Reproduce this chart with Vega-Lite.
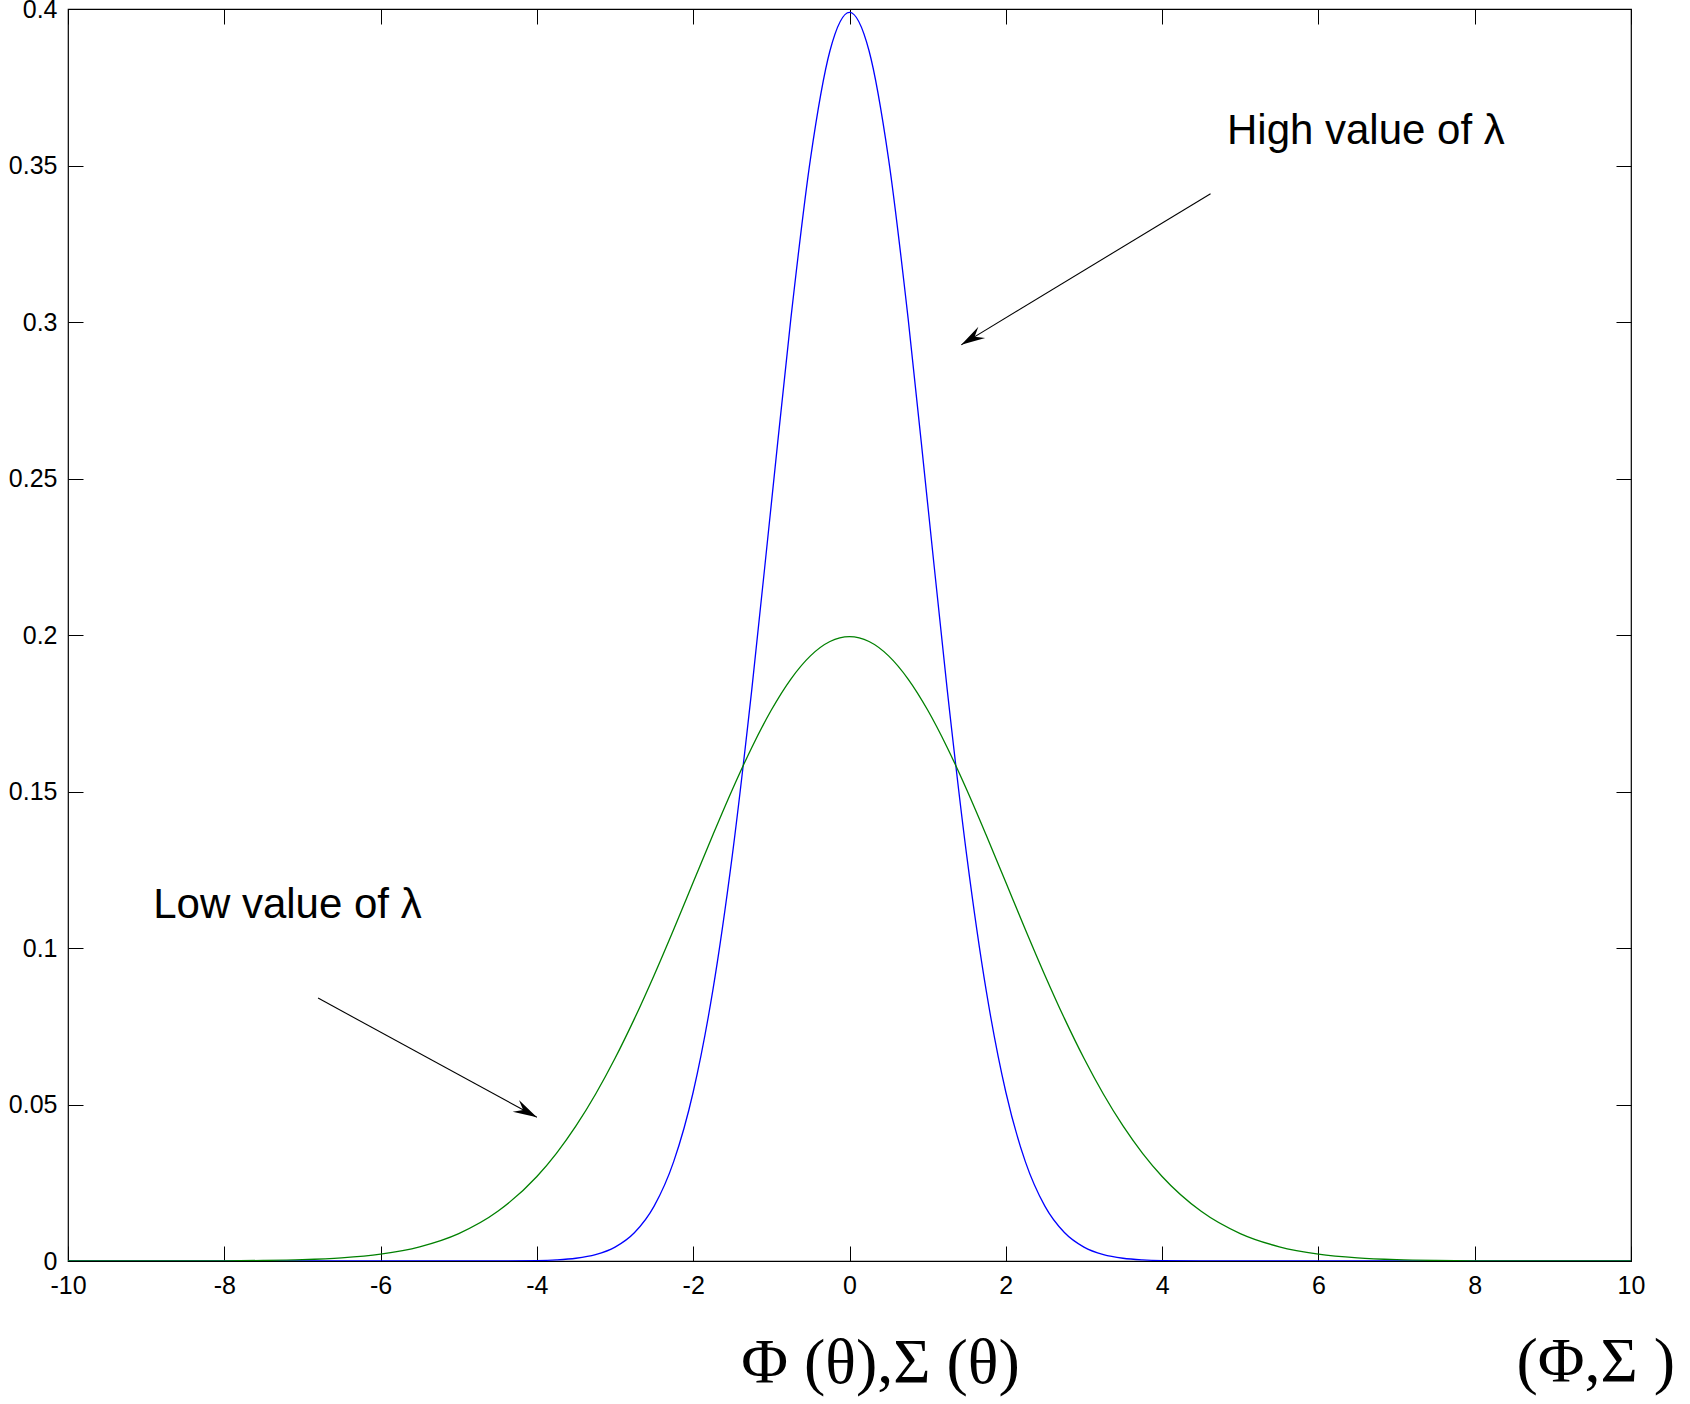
{
  "$schema": "https://vega.github.io/schema/vega-lite/v6.json",
  "autosize": {"type": "none"},
  "width": 1563,
  "height": 1252,
  "padding": {"left": 68, "top": 9, "right": 59, "bottom": 143},
  "background": "white",
  "config": {
    "view": {"stroke": "black", "strokeWidth": 1.2},
    "axis": {"grid": false, "domain": false, "tickColor": "black", "tickWidth": 1, "labelColor": "black", "labelFont": "Liberation Sans", "labelFontSize": 25, "tickSize": -15}
  },
  "datasets": {
    "curves": [
      {"x": -10, "y": 0, "s": "high"},
      {"x": -6, "y": 0, "s": "high"},
      {"x": -5, "y": 0.0000015, "s": "high"},
      {"x": -4.5, "y": 0.000016, "s": "high"},
      {"x": -4, "y": 0.000134, "s": "high"},
      {"x": -3.75, "y": 0.000353, "s": "high"},
      {"x": -3.5, "y": 0.000873, "s": "high"},
      {"x": -3.25, "y": 0.002029, "s": "high"},
      {"x": -3, "y": 0.004432, "s": "high"},
      {"x": -2.75, "y": 0.009094, "s": "high"},
      {"x": -2.5, "y": 0.017528, "s": "high"},
      {"x": -2.25, "y": 0.03174, "s": "high"},
      {"x": -2, "y": 0.053991, "s": "high"},
      {"x": -1.75, "y": 0.086277, "s": "high"},
      {"x": -1.5, "y": 0.129518, "s": "high"},
      {"x": -1.25, "y": 0.182649, "s": "high"},
      {"x": -1, "y": 0.241971, "s": "high"},
      {"x": -0.75, "y": 0.301137, "s": "high"},
      {"x": -0.5, "y": 0.352065, "s": "high"},
      {"x": -0.25, "y": 0.386668, "s": "high"},
      {"x": 0, "y": 0.398942, "s": "high"},
      {"x": 0.25, "y": 0.386668, "s": "high"},
      {"x": 0.5, "y": 0.352065, "s": "high"},
      {"x": 0.75, "y": 0.301137, "s": "high"},
      {"x": 1, "y": 0.241971, "s": "high"},
      {"x": 1.25, "y": 0.182649, "s": "high"},
      {"x": 1.5, "y": 0.129518, "s": "high"},
      {"x": 1.75, "y": 0.086277, "s": "high"},
      {"x": 2, "y": 0.053991, "s": "high"},
      {"x": 2.25, "y": 0.03174, "s": "high"},
      {"x": 2.5, "y": 0.017528, "s": "high"},
      {"x": 2.75, "y": 0.009094, "s": "high"},
      {"x": 3, "y": 0.004432, "s": "high"},
      {"x": 3.25, "y": 0.002029, "s": "high"},
      {"x": 3.5, "y": 0.000873, "s": "high"},
      {"x": 3.75, "y": 0.000353, "s": "high"},
      {"x": 4, "y": 0.000134, "s": "high"},
      {"x": 4.5, "y": 0.000016, "s": "high"},
      {"x": 5, "y": 0.0000015, "s": "high"},
      {"x": 6, "y": 0, "s": "high"},
      {"x": 10, "y": 0, "s": "high"},
      {"x": -10, "y": 0.0000007, "s": "low"},
      {"x": -9, "y": 0.000008, "s": "low"},
      {"x": -8, "y": 0.000067, "s": "low"},
      {"x": -7.5, "y": 0.000176, "s": "low"},
      {"x": -7, "y": 0.000436, "s": "low"},
      {"x": -6.5, "y": 0.001015, "s": "low"},
      {"x": -6, "y": 0.002216, "s": "low"},
      {"x": -5.5, "y": 0.004547, "s": "low"},
      {"x": -5, "y": 0.008764, "s": "low"},
      {"x": -4.5, "y": 0.01587, "s": "low"},
      {"x": -4, "y": 0.026995, "s": "low"},
      {"x": -3.75, "y": 0.034393, "s": "low"},
      {"x": -3.5, "y": 0.043139, "s": "low"},
      {"x": -3.25, "y": 0.053271, "s": "low"},
      {"x": -3, "y": 0.064759, "s": "low"},
      {"x": -2.75, "y": 0.07751, "s": "low"},
      {"x": -2.5, "y": 0.091324, "s": "low"},
      {"x": -2.25, "y": 0.105939, "s": "low"},
      {"x": -2, "y": 0.120985, "s": "low"},
      {"x": -1.75, "y": 0.136027, "s": "low"},
      {"x": -1.5, "y": 0.150569, "s": "low"},
      {"x": -1.25, "y": 0.164081, "s": "low"},
      {"x": -1, "y": 0.176033, "s": "low"},
      {"x": -0.75, "y": 0.185927, "s": "low"},
      {"x": -0.5, "y": 0.193334, "s": "low"},
      {"x": -0.25, "y": 0.197919, "s": "low"},
      {"x": 0, "y": 0.199471, "s": "low"},
      {"x": 0.25, "y": 0.197919, "s": "low"},
      {"x": 0.5, "y": 0.193334, "s": "low"},
      {"x": 0.75, "y": 0.185927, "s": "low"},
      {"x": 1, "y": 0.176033, "s": "low"},
      {"x": 1.25, "y": 0.164081, "s": "low"},
      {"x": 1.5, "y": 0.150569, "s": "low"},
      {"x": 1.75, "y": 0.136027, "s": "low"},
      {"x": 2, "y": 0.120985, "s": "low"},
      {"x": 2.25, "y": 0.105939, "s": "low"},
      {"x": 2.5, "y": 0.091324, "s": "low"},
      {"x": 2.75, "y": 0.07751, "s": "low"},
      {"x": 3, "y": 0.064759, "s": "low"},
      {"x": 3.25, "y": 0.053271, "s": "low"},
      {"x": 3.5, "y": 0.043139, "s": "low"},
      {"x": 3.75, "y": 0.034393, "s": "low"},
      {"x": 4, "y": 0.026995, "s": "low"},
      {"x": 4.5, "y": 0.01587, "s": "low"},
      {"x": 5, "y": 0.008764, "s": "low"},
      {"x": 5.5, "y": 0.004547, "s": "low"},
      {"x": 6, "y": 0.002216, "s": "low"},
      {"x": 6.5, "y": 0.001015, "s": "low"},
      {"x": 7, "y": 0.000436, "s": "low"},
      {"x": 7.5, "y": 0.000176, "s": "low"},
      {"x": 8, "y": 0.000067, "s": "low"},
      {"x": 9, "y": 0.000008, "s": "low"},
      {"x": 10, "y": 0.0000007, "s": "low"}
    ],
    "labels": [
      {"x": 4.83, "y": 0.3611, "label": "High value of λ"},
      {"x": -8.91, "y": 0.1137, "label": "Low value of λ"}
    ],
    "arrows": [
      {"x": 4.62, "y": 0.341, "x2": 1.43, "y2": 0.2927},
      {"x": -6.8, "y": 0.084, "x2": -4.0, "y2": 0.0459}
    ]
  },
  "resolve": {"axis": {"x": "independent", "y": "independent"}},
  "layer": [
    {
      "data": {"name": "curves"},
      "mark": {"type": "line", "interpolate": "monotone", "strokeWidth": 1.3, "clip": true},
      "encoding": {
        "x": {"field": "x", "type": "quantitative", "scale": {"domain": [-10, 10], "nice": false, "zero": false},
          "axis": {"orient": "bottom", "values": [-10, -8, -6, -4, -2, 0, 2, 4, 6, 8, 10], "labelFlush": false, "labelPadding": 27, "labelExpr": "'' + datum.value",
            "title": "Φ (θ),Σ (θ)", "titleFont": "Liberation Serif", "titleFontSize": 64, "titleFontWeight": "normal", "titleColor": "black",
            "titleX": 812, "titleY": 102, "titleBaseline": "middle", "titleAlign": "center"}},
        "y": {"field": "y", "type": "quantitative", "scale": {"domain": [0, 0.4], "nice": false, "zero": false},
          "axis": {"orient": "left", "values": [0, 0.05, 0.1, 0.15, 0.2, 0.25, 0.3, 0.35, 0.4], "labelExpr": "'' + datum.value", "labelPadding": 26, "title": null}},
        "color": {"field": "s", "type": "nominal", "scale": {"domain": ["high", "low"], "range": ["#0000ff", "#008000"]}, "legend": null}
      }
    },
    {
      "data": {"name": "labels"},
      "mark": {"type": "text", "align": "left", "baseline": "middle", "font": "Liberation Sans", "fontSize": 42, "color": "black"},
      "encoding": {
        "x": {"field": "x", "type": "quantitative", "axis": {"orient": "top", "values": [-10, -8, -6, -4, -2, 0, 2, 4, 6, 8, 10], "labels": false, "title": null}},
        "y": {"field": "y", "type": "quantitative", "axis": {"orient": "right", "values": [0, 0.05, 0.1, 0.15, 0.2, 0.25, 0.3, 0.35, 0.4], "labels": false, "title": null}},
        "text": {"field": "label"}
      }
    },
    {
      "data": {"name": "arrows"},
      "mark": {"type": "rule", "color": "black", "strokeWidth": 1.1},
      "encoding": {
        "x": {"field": "x", "type": "quantitative", "axis": null},
        "y": {"field": "y", "type": "quantitative", "axis": null},
        "x2": {"field": "x2"},
        "y2": {"field": "y2"}
      }
    },
    {
      "data": {"values": [{"x": 1.43, "y": 0.2927}]},
      "mark": {"type": "point", "shape": "M0,0 L0.55,2 L0,1.3 L-0.55,2 Z", "angle": 238.8, "size": 576, "filled": true, "color": "black", "opacity": 1, "strokeWidth": 0},
      "encoding": {
        "x": {"field": "x", "type": "quantitative", "axis": null},
        "y": {"field": "y", "type": "quantitative", "axis": null}
      }
    },
    {
      "data": {"values": [{"x": -4.0, "y": 0.0459}]},
      "mark": {"type": "point", "shape": "M0,0 L0.55,2 L0,1.3 L-0.55,2 Z", "angle": 118.5, "size": 576, "filled": true, "color": "black", "opacity": 1, "strokeWidth": 0},
      "encoding": {
        "x": {"field": "x", "type": "quantitative", "axis": null},
        "y": {"field": "y", "type": "quantitative", "axis": null}
      }
    },
    {
      "data": {"values": [{"x": 9.55, "y": -0.0327, "label": "(Φ,Σ )"}]},
      "mark": {"type": "text", "align": "center", "baseline": "middle", "font": "Liberation Serif", "fontSize": 64, "color": "black"},
      "encoding": {
        "x": {"field": "x", "type": "quantitative", "axis": null},
        "y": {"field": "y", "type": "quantitative", "axis": null},
        "text": {"field": "label"}
      }
    }
  ]
}
